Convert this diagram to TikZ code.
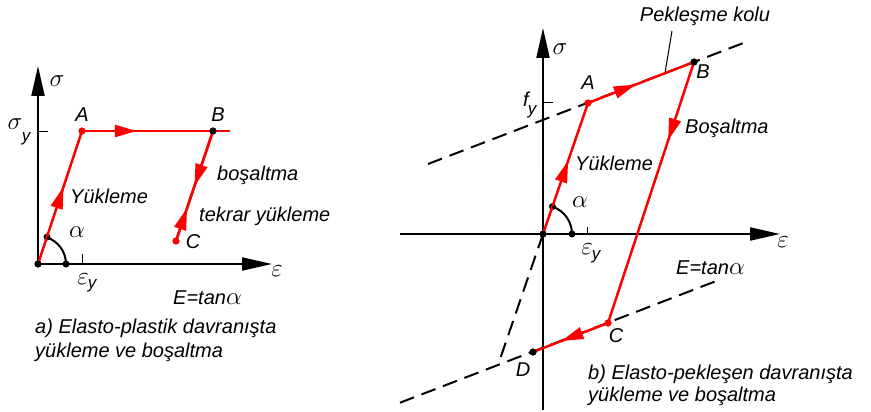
\RequirePackage{fix-cm}
\documentclass[tikz,border=0pt]{standalone}
\usepackage{amsmath}
\usepackage{fontspec}
\setmainfont{Liberation Sans}
\usetikzlibrary{arrows.meta,decorations.markings}

\newcommand{\lblfont}{\fontsize{20}{24}\selectfont\itshape}
\newcommand{\grk}[1]{{\fontsize{25}{25}\selectfont$#1$}}
\newcommand{\subfont}{\fontsize{17}{17}\selectfont\itshape}

\begin{document}
\begin{tikzpicture}[x=1pt, y=-1pt,
  axis/.style={line width=2pt, -{Triangle[length=30pt,width=13pt]}},
  load/.style={red, line width=2.5pt},
  mid/.style={postaction={decorate, decoration={markings,
      mark=at position #1 with {\arrow{Triangle[length=22pt,width=12pt]}}}}},
  bdot/.style={circle, fill=black, inner sep=0pt, minimum size=7pt},
  rdot/.style={circle, fill=red, inner sep=0pt, minimum size=7pt},
  hardline/.style={line width=2pt, dash pattern=on 15pt off 8pt},
  lbl/.style={font=\lblfont, inner sep=0pt},
  sub/.style={font=\subfont, inner sep=0pt}]
\useasboundingbox (0,0) rectangle (871,412);

% left: elasto-plastic
\coordinate (s1) at (38,66);
\coordinate (e1) at (272,264);
\coordinate (end1) at (230,131);
\node[bdot] (o1) at (38,264) {};
\node[rdot] (a1) at (82,131) {};
\node[bdot] (b1) at (213,131) {};
\node[rdot] (c1) at (176,241) {};
\node[bdot] (p1) at (66,264) {};
\node[bdot] (q1) at (47,237) {};

\draw[axis] (o1.center) -- (s1);
\draw[axis] (o1.center) -- (e1);
\draw[line width=1pt] (38,131) -- (48,131);
\draw[line width=1pt] (82,254) -- (82,264);

\draw[load, mid=0.58] (o1.center) -- (a1.center);
\draw[load, mid=0.37] (a1.center) -- (end1);
\draw[load, mid=0.5] (b1.center) -- (c1.center);
\draw[load, mid=0.3] (c1.center) -- (b1.center);
\draw[line width=2pt] (p1.center) arc[start angle=0, end angle=-71.7, radius=28];
\node[rdot] at (a1) {};
\node[bdot] at (b1) {};
\node[rdot] at (c1) {};
\node[bdot] at (o1) {};

\node[lbl] (ls1) at (57,81) {\grk{\sigma}};
\node[lbl] (lsy) at (15,124) {\grk{\sigma}};
\node[sub] (lsy2) at (26,139) {y};
\node[lbl] (le1) at (277,271) {\grk{\varepsilon}};
\node[lbl] (ley1) at (83,279) {\grk{\varepsilon}};
\node[sub] (ley1b) at (92,286) {y};
\node[lbl] (la1) at (82,115) {A};
\node[lbl] (lb1) at (218,115) {B};
\node[lbl] (lc1) at (193,242) {C};
\node[lbl] (lal1) at (77,232) {\grk{\alpha}};
\node[lbl, anchor=west] (ly1) at (70,196) {Yükleme};
\node[lbl, anchor=west] (lbo1) at (217,175) {boşaltma};
\node[lbl, anchor=west] (lt1) at (199,216) {tekrar yükleme};
\node[lbl, anchor=west] (lE1) at (173,298) {E=tan\grk{\alpha}};
\node[lbl, anchor=west] (cap1a) at (35,328) {a) Elasto-plastik davranışta};
\node[lbl, anchor=west] (cap1b) at (35,352) {yükleme ve boşaltma};

% right: elasto-hardening
\coordinate (s2b) at (543,410);
\coordinate (s2t) at (543,28);
\coordinate (e2l) at (400,234);
\coordinate (e2r) at (780,234);
\coordinate (u1) at (428,164);
\coordinate (u2) at (745,42.4);
\coordinate (w1) at (400,402.7);
\coordinate (w2) at (715,281.5);
\coordinate (k2) at (498,365);
\coordinate (pk) at (672,31);
\coordinate (pk2) at (665,73);
\node[bdot] (o2) at (543,234) {};
\node[rdot] (a2) at (588,103) {};
\node[bdot] (b2) at (694,62) {};
\node[rdot] (c2) at (608,323) {};
\node[bdot] (d2) at (533,352) {};
\node[bdot] (p2) at (572,234) {};
\node[bdot] (q2) at (552.4,206.6) {};

\draw[axis] (s2b) -- (s2t);
\draw[axis] (e2l) -- (e2r);
\draw[line width=1pt] (543,103) -- (553,103);
\draw[line width=1pt] (587,227) -- (587,234);

\draw[hardline] (u1) -- (u2);
\draw[hardline] (w1) -- (w2);
\draw[hardline] (o2.center) -- (k2);
\draw[line width=1pt] (pk) -- (pk2);

\draw[load, mid=0.56] (o2.center) -- (a2.center);
\draw[load, mid=0.45] (a2.center) -- (b2.center);
\draw[load, mid=0.3] (b2.center) -- (c2.center);
\draw[load, mid=0.62] (c2.center) -- (d2.center);
\draw[line width=2pt] (p2.center) arc[start angle=0, end angle=-71, radius=29];
\node[rdot] at (a2) {};
\node[bdot] at (b2) {};
\node[rdot] at (c2) {};
\node[bdot] at (d2) {};
\node[bdot] at (o2) {};

\node[lbl] (ls2) at (560,49) {\grk{\sigma}};
\node[lbl] (lf2) at (526,99) {f};
\node[sub] (lf2b) at (532,112) {y};
\node[lbl] (le2) at (783,242) {\grk{\varepsilon}};
\node[lbl] (ley2) at (587,249) {\grk{\varepsilon}};
\node[sub] (ley2b) at (596,257) {y};
\node[lbl] (la2) at (588,83) {A};
\node[lbl] (lb2) at (703,72) {B};
\node[lbl] (lc2) at (616,336) {C};
\node[lbl] (ld2) at (523,370) {D};
\node[lbl] (lal2) at (580,202) {\grk{\alpha}};
\node[lbl, anchor=west] (ly2) at (575,163) {Yükleme};
\node[lbl, anchor=west] (lbo2) at (685,128) {Boşaltma};
\node[lbl] (lpk) at (705,16) {Pekleşme kolu};
\node[lbl, anchor=west] (lE2) at (676,268) {E=tan\grk{\alpha}};
\node[lbl, anchor=west] (cap2a) at (588,374) {b) Elasto-pekleşen davranışta};
\node[lbl, anchor=west] (cap2b) at (588,396) {yükleme ve boşaltma};
\end{tikzpicture}
\end{document}
